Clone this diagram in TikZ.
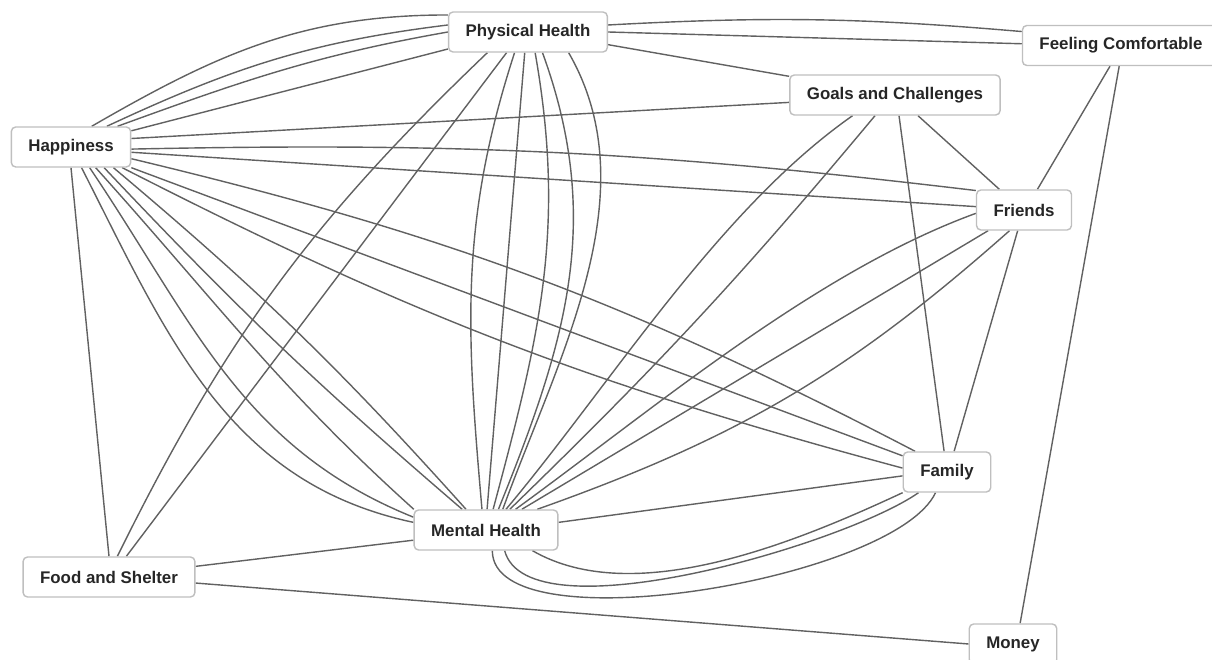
\documentclass[tikz,border=0pt]{standalone}
\usepackage{fontspec}
\setmainfont{Liberation Sans}
\usepackage{tikz}
\usetikzlibrary{backgrounds}

\begin{document}
\begin{tikzpicture}[
    topic/.style={draw=black!25, line width=0.8pt, rounded corners=2.5pt, fill=white,
                  minimum height=0.8cm, inner xsep=0.34cm, text=black!85,
                  font=\bfseries\fontsize{9.6}{11}\selectfont},
    link/.style={draw=black!62, line width=0.8pt}
]
\useasboundingbox (0,0) rectangle (24.24,13.2);

%% Topics
\node[topic] (phys)  at (10.56,12.56) {Physical Health};
\node[topic] (fc)    at (22.42,12.29) {Feeling Comfortable};
\node[topic] (goals) at (17.90,11.30) {Goals and Challenges};
\node[topic] (hap)   at (1.42,10.26)  {Happiness};
\node[topic] (fr)    at (20.48,9.00)  {Friends};
\node[topic] (fam)   at (18.94,3.76)  {Family};
\node[topic] (mh)    at (9.72,2.60)   {Mental Health};
\node[topic] (fs)    at (2.18,1.66)   {Food and Shelter};
\node[topic] (money) at (20.26,0.32)  {Money};

\begin{scope}[on background layer, every path/.style={link}]
%% Happiness -- Physical Health
\draw (phys.168) to[out=180, in=30] (hap.45);
\draw (phys.175) to[out=187, in=25] (hap.30);
\draw (phys.180) to[out=190, in=20] (hap.24);
\draw (hap.15) -- (phys.192);

%% Physical Health -- others
\draw (phys.5) to[bend left=4] (fc.172);
\draw (phys.east) -- (fc.179);
\draw (phys.-9) -- (goals.170);
\draw (phys.207) to[bend right=10] (fs.68);
\draw (phys.224) -- (fs.50);

%% Physical Health -- Mental Health
\draw (phys.237) to[out=252, in=95] (mh.101);
\draw (phys.261) -- (mh.87);
\draw (phys.289) to[out=280, in=75] (mh.71);
\draw (phys.305) to[out=290, in=68] (mh.59);
\draw (phys.333) to[out=300, in=70, looseness=0.9] (mh.51);

%% Happiness -- others
\draw (hap.8) -- (goals.184);
\draw (hap.-2) to[bend left=4] (fr.158);
\draw (hap.-5) -- (fr.176);
\draw (hap.-11) to[bend left=7] (fam.147);
\draw (hap.south east) -- (fam.160);
\draw (hap.338) to[bend right=6] (fam.175);
\draw (hap.south) -- (fs.north);

%% Happiness -- Mental Health
\draw (hap.297) to[out=297, in=168] (mh.174);
\draw (hap.312) to[out=304, in=158] (mh.170);
\draw (hap.320) to[out=312, in=138] (mh.164);
\draw (hap.328) to[bend right=3] (mh.139);
\draw (hap.334) to[bend left=4] (mh.134);

%% Goals and Friends
\draw (goals.318) -- (fr.140);
\draw (goals.281) -- (fam.98);
\draw (goals.206) to[out=215, in=50, looseness=0.8] (mh.46);
\draw (goals.226) to[bend left=3] (mh.41);
\draw (fr.57) -- (fc.242);
\draw (fr.253) -- (fam.71);
\draw (fr.184) to[out=200, in=36, looseness=0.8] (mh.35);
\draw (fr.210) -- (mh.30);
\draw (fr.235) to[bend left=11] (mh.22);

%% Family -- Mental Health
\draw (fam.185) -- (mh.6);
\draw (mh.287) to[out=270, in=245, looseness=0.55] (fam.241);
\draw (mh.312) to[out=285, in=215, looseness=0.55] (fam.216);
\draw (mh.336) to[out=330, in=205, looseness=0.8] (fam.205);

%% Bottom row
\draw (fs.7) -- (mh.188);
\draw (fs.-4) -- (money.west);
\draw (fc.265) -- (money.71);
\end{scope}

\end{tikzpicture}
\end{document}
